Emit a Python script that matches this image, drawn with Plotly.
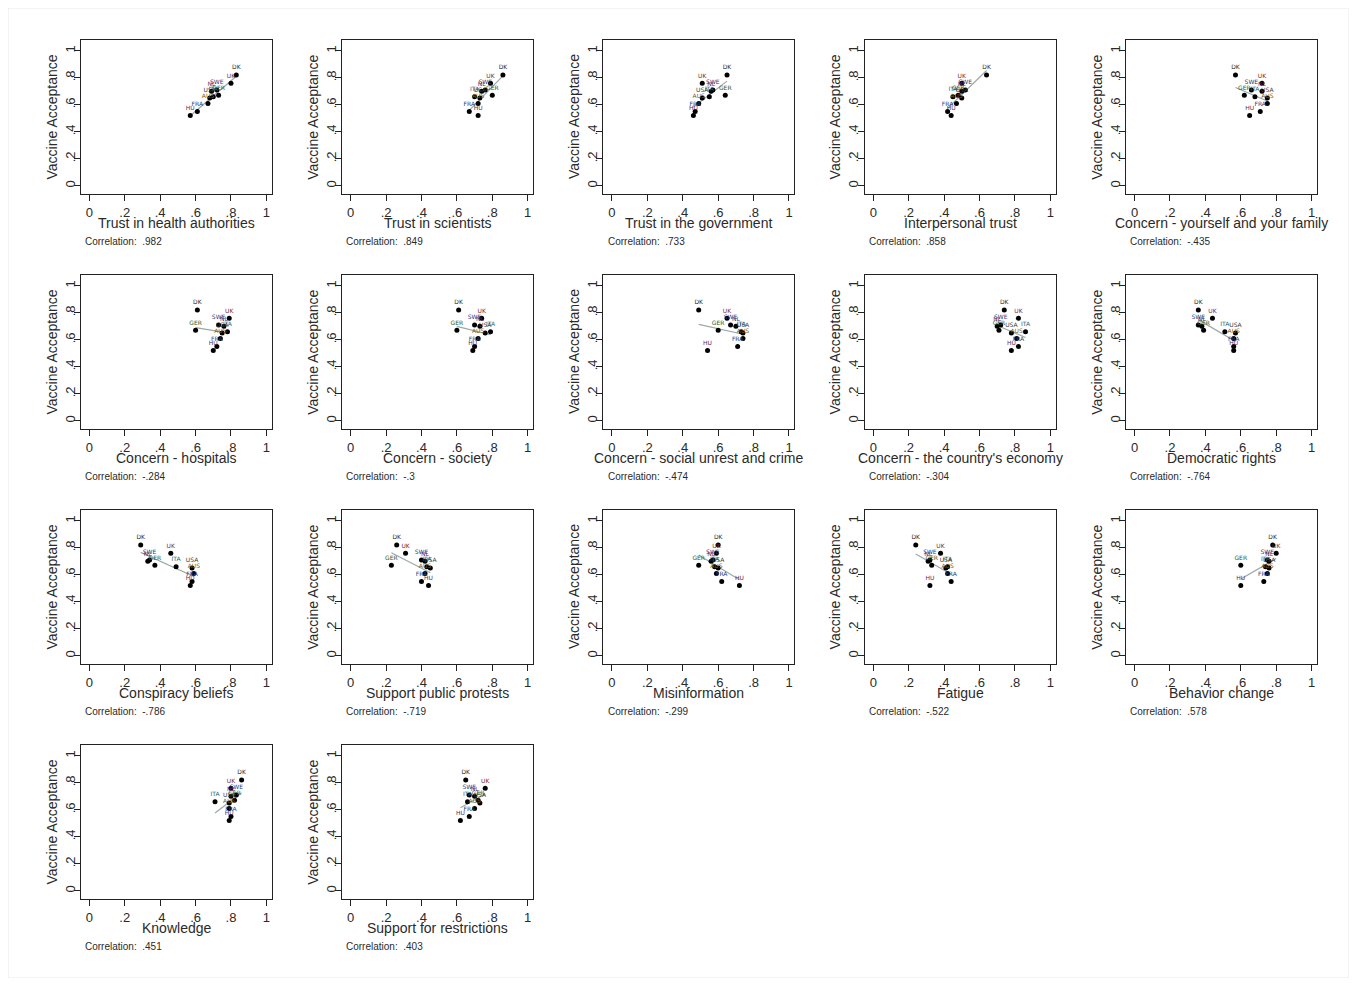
import numpy as np
import plotly.graph_objects as go

# ---------------- data ----------------
countries = ["DK", "UK", "SWE", "NL", "GER", "ITA", "USA", "AUS", "FRA", "HU"]
acceptance = [0.82, 0.76, 0.71, 0.70, 0.67, 0.66, 0.65, 0.61, 0.55, 0.52]
label_colors = ["#2b2b2b", "#7a2a2a", "#1f3a7a", "#6a1f6a", "#2a5a2a",
                "#1f5f6f", "#3a3a3a", "#7a5a10", "#204080", "#5a2a5a"]

variables = [
    "Trust in health authorities", "Trust in scientists", "Trust in the government",
    "Interpersonal trust", "Concern - yourself and your family", "Concern - hospitals",
    "Concern - society", "Concern - social unrest and crime", "Concern - the country's economy",
    "Democratic rights", "Conspiracy beliefs", "Support public protests",
    "Misinformation", "Fatigue", "Behavior change", "Knowledge", "Support for restrictions",
]
correlations = [".982", ".849", ".733", ".858", "-.435", "-.284", "-.3", "-.474", "-.304",
                "-.764", "-.786", "-.719", "-.299", "-.522", ".578", ".451", ".403"]

trust_health = [0.83, 0.80, 0.72, 0.69, 0.73, 0.70, 0.68, 0.67, 0.61, 0.57]
trust_scientists = [0.86, 0.79, 0.76, 0.74, 0.80, 0.70, 0.73, 0.72, 0.67, 0.72]
trust_government = [0.65, 0.51, 0.57, 0.56, 0.64, 0.55, 0.51, 0.49, 0.47, 0.46]
interpersonal = [0.64, 0.50, 0.52, 0.50, 0.48, 0.45, 0.50, 0.47, 0.42, 0.44]
concern_family = [0.57, 0.72, 0.66, 0.72, 0.62, 0.68, 0.75, 0.75, 0.71, 0.65]
concern_hospitals = [0.61, 0.79, 0.73, 0.76, 0.60, 0.78, 0.75, 0.74, 0.72, 0.70]
concern_society = [0.61, 0.74, 0.70, 0.73, 0.60, 0.79, 0.76, 0.72, 0.70, 0.69]
concern_unrest = [0.49, 0.65, 0.67, 0.70, 0.60, 0.73, 0.74, 0.74, 0.71, 0.54]
concern_economy = [0.74, 0.82, 0.72, 0.70, 0.71, 0.86, 0.78, 0.81, 0.82, 0.78]
democratic_rights = [0.36, 0.44, 0.36, 0.38, 0.39, 0.51, 0.57, 0.56, 0.56, 0.56]
conspiracy = [0.29, 0.46, 0.34, 0.33, 0.37, 0.49, 0.58, 0.59, 0.58, 0.57]
public_protests = [0.26, 0.31, 0.40, 0.42, 0.23, 0.43, 0.45, 0.42, 0.40, 0.44]
misinformation = [0.60, 0.59, 0.57, 0.56, 0.49, 0.58, 0.60, 0.59, 0.62, 0.72]
fatigue = [0.24, 0.38, 0.32, 0.31, 0.33, 0.42, 0.41, 0.42, 0.44, 0.32]
behavior_change = [0.78, 0.80, 0.75, 0.76, 0.60, 0.74, 0.76, 0.75, 0.73, 0.60]
knowledge = [0.86, 0.80, 0.83, 0.80, 0.82, 0.71, 0.79, 0.79, 0.80, 0.79]
support_restrictions = [0.65, 0.76, 0.67, 0.70, 0.72, 0.66, 0.73, 0.70, 0.67, 0.62]

predictors = [trust_health, trust_scientists, trust_government, interpersonal,
              concern_family, concern_hospitals, concern_society, concern_unrest,
              concern_economy, democratic_rights, conspiracy, public_protests,
              misinformation, fatigue, behavior_change, knowledge, support_restrictions]

tick_vals = [0, 0.2, 0.4, 0.6, 0.8, 1]
tick_text = ["0", ".2", ".4", ".6", ".8", "1"]

# ---------------- layout geometry ----------------
# page body has an 8px margin, so the figure is drawn 8px in from the corner
OFF = 8
W, H = 1341, 970
BOX_L, BOX_R, BOX_T, BOX_B = 80.7 - OFF, 271.7 - OFF, 40.0 - OFF, 194.0 - OFF
DX, DY = 261.3, 235.0
FONT = "Liberation Sans, Arial, sans-serif"
TXT = "#2a2a2a"

fig = go.Figure()
layout = dict(
    width=W, height=H, margin=dict(l=0, r=0, t=0, b=0),
    paper_bgcolor="white", plot_bgcolor="white", showlegend=False,
    font=dict(family=FONT, color=TXT),
)
annotations = []

for i, (name, xs, corr) in enumerate(zip(variables, predictors, correlations)):
    r, c = divmod(i, 5)
    k = i + 1
    xa = "x" if k == 1 else f"x{k}"
    ya = "y" if k == 1 else f"y{k}"
    xkey = "xaxis" if k == 1 else f"xaxis{k}"
    ykey = "yaxis" if k == 1 else f"yaxis{k}"
    l = BOX_L + c * DX
    rr = BOX_R + c * DX
    t = BOX_T + r * DY
    b = BOX_B + r * DY
    layout[xkey] = dict(
        domain=[l / W, rr / W], anchor=ya, range=[-0.049, 1.03],
        showgrid=False, zeroline=False, showline=True, linecolor="#222", linewidth=1,
        mirror=True, ticks="outside", ticklen=6, tickcolor="#222",
        tickvals=tick_vals, ticktext=tick_text,
        tickfont=dict(size=13, color=TXT, family=FONT),
    )
    layout[ykey] = dict(
        domain=[1 - b / H, 1 - t / H], anchor=xa, range=[-0.061, 1.08],
        showgrid=False, zeroline=False, showline=True, linecolor="#222", linewidth=1,
        mirror=True, ticks="outside", ticklen=6, tickcolor="#222",
        tickvals=tick_vals, ticktext=tick_text, tickangle=-90,
        ticklabelstandoff=-6,
        tickfont=dict(size=13, color=TXT, family=FONT),
    )

    xarr = np.array(xs)
    yarr = np.array(acceptance)
    slope, intercept = np.polyfit(xarr, yarr, 1)
    xl = np.array([xarr.min(), xarr.max()])
    fig.add_trace(go.Scatter(
        x=xl, y=slope * xl + intercept, mode="lines",
        line=dict(color="#9aa8a8", width=1.2), xaxis=xa, yaxis=ya, hoverinfo="skip",
    ))
    fig.add_trace(go.Scatter(
        x=xs, y=acceptance, mode="markers+text", text=countries,
        textposition="top center",
        textfont=dict(size=6, color=label_colors, family="DejaVu Sans"),
        marker=dict(color="black", size=5, symbol="circle"),
        xaxis=xa, yaxis=ya,
    ))

    cx = (l + rr) / 2
    annotations.append(dict(
        text=name, x=cx / W, y=1 - (223 - OFF + r * DY) / H, xref="paper", yref="paper",
        xanchor="center", yanchor="middle", showarrow=False,
        font=dict(size=14, color=TXT, family=FONT),
    ))
    annotations.append(dict(
        text="Vaccine Acceptance", x=(51.5 - OFF + c * DX) / W, y=1 - ((t + b) / 2) / H,
        xref="paper", yref="paper", xanchor="center", yanchor="middle",
        textangle=-90, showarrow=False, font=dict(size=14, color=TXT, family=FONT),
    ))
    annotations.append(dict(
        text="Correlation:  " + corr, x=(83 - OFF + c * DX) / W, y=1 - (241.5 - OFF + r * DY) / H,
        xref="paper", yref="paper", xanchor="left", yanchor="middle",
        showarrow=False, font=dict(size=10, color=TXT, family=FONT),
    ))

layout["annotations"] = annotations
layout["shapes"] = [dict(type="rect", xref="paper", yref="paper",
                         x0=0, x1=1, y0=0, y1=1,
                         line=dict(color="#e8e8e8", width=1))]
fig.update_layout(**layout)
fig.write_html("out.html")
